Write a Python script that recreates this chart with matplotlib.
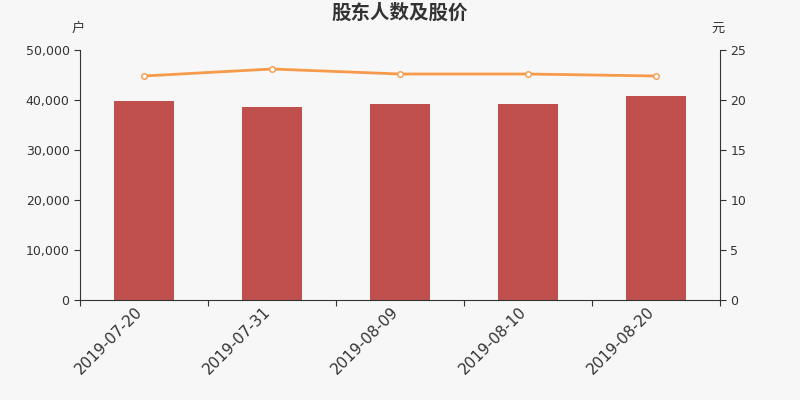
import matplotlib
matplotlib.use('Agg')
import matplotlib.pyplot as plt
import matplotlib.transforms as mtransforms
import numpy as np

plt.rcParams['font.family'] = ['Noto Sans CJK SC', 'DejaVu Sans']

dates = ['2019-07-20', '2019-07-31', '2019-08-09', '2019-08-10', '2019-08-20']
holders = [39800, 38700, 39200, 39200, 40800]
prices = [22.4, 23.1, 22.6, 22.6, 22.4]

bg = '#f7f7f7'
axis_color = '#333333'

fig = plt.figure(figsize=(8, 4), dpi=100, facecolor=bg)
ax = fig.add_axes([0.1, 0.25, 0.8, 0.625], facecolor=bg)
x = np.arange(len(dates))

ax.bar(x, holders, width=0.47, color='#c0504d', zorder=2)
ax.set_xlim(-0.5, len(dates) - 0.5)
ax.set_ylim(0, 50000)
ax.set_yticks(range(0, 50001, 10000))
ax.set_yticklabels([f'{v:,}' for v in range(0, 50001, 10000)], family='DejaVu Sans')

# tick marks sit between categories, labels sit under bars
ax.set_xticks(np.arange(-0.5, len(dates), 1))
ax.set_xticklabels([])
ax.set_xticks(x, minor=True)
ax.set_xticklabels(dates, minor=True, rotation=45, ha='right', va='top',
                   rotation_mode='anchor', fontsize=11, family='DejaVu Sans',
                   color=axis_color)
ax.tick_params(axis='x', which='minor', length=0, pad=6)
ax.tick_params(axis='x', which='major', length=4, color=axis_color)
ax.tick_params(axis='y', length=4, color=axis_color, labelsize=9, labelcolor=axis_color)
shift = mtransforms.ScaledTranslation(-9 / 100, 4 / 100, fig.dpi_scale_trans)
for lbl in ax.get_xticklabels(minor=True):
    lbl.set_transform(lbl.get_transform() + shift)

ax2 = ax.twinx()
ax2.plot(x, prices, color='#f79a4a', linewidth=2, marker='o', markersize=4,
         markerfacecolor='white', markeredgecolor='#f79a4a', markeredgewidth=1, zorder=3)
ax2.set_ylim(0, 25)
ax2.set_yticks(range(0, 26, 5))
ax2.tick_params(axis='y', length=4, color=axis_color, labelsize=9, labelcolor=axis_color)
for lbl in ax2.get_yticklabels():
    lbl.set_family('DejaVu Sans')

for a in (ax, ax2):
    a.spines['top'].set_visible(False)
    for s in ('left', 'right', 'bottom'):
        a.spines[s].set_color(axis_color)
ax.spines['right'].set_visible(False)
ax2.spines['left'].set_visible(False)
ax2.spines['bottom'].set_visible(False)

fig.text(0.5, 0.967, '股东人数及股价', ha='center', va='center', fontsize=14,
         fontweight='bold', color=axis_color)
fig.text(0.0975, 0.93, '户', ha='center', va='center', fontsize=9.5, color=axis_color)
fig.text(0.8975, 0.93, '元', ha='center', va='center', fontsize=9.5, color=axis_color)

fig.savefig('out.png', dpi=100, facecolor=bg)
